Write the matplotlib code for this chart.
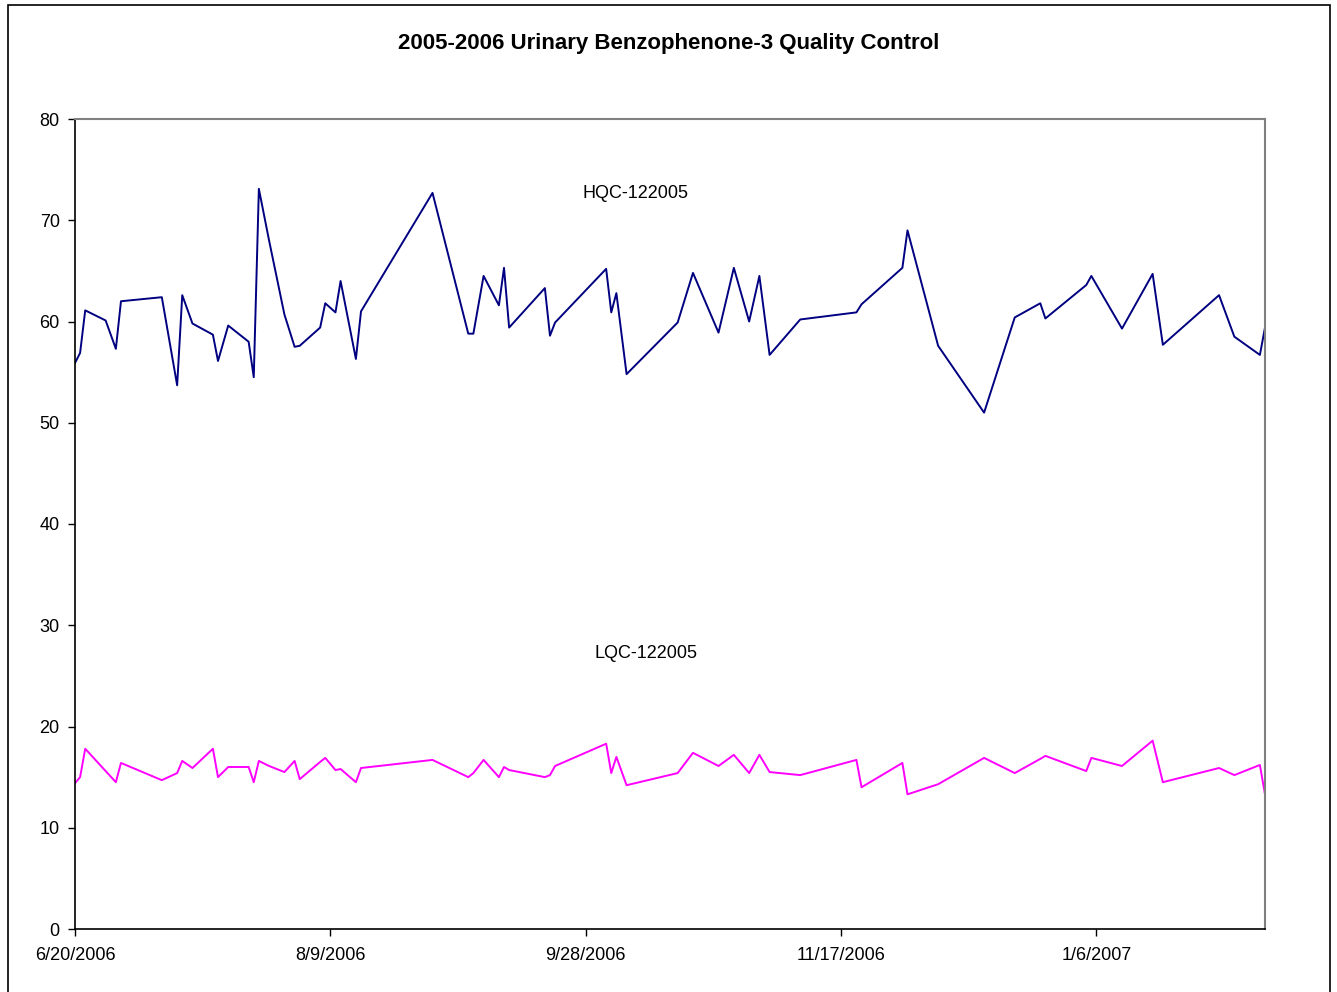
import pandas as pd
import matplotlib
matplotlib.use('Agg')
import matplotlib.pyplot as plt
from matplotlib.patches import Rectangle

plt.rcParams['font.family'] = ['Liberation Sans', 'DejaVu Sans']

dates = ['2006-06-20', '2006-06-21', '2006-06-22', '2006-06-26', '2006-06-28', '2006-06-29',
         '2006-07-07', '2006-07-10', '2006-07-11', '2006-07-13', '2006-07-17', '2006-07-18',
         '2006-07-20', '2006-07-24', '2006-07-25', '2006-07-26', '2006-07-28', '2006-07-31',
         '2006-08-02', '2006-08-03', '2006-08-07', '2006-08-08', '2006-08-10', '2006-08-11',
         '2006-08-14', '2006-08-15', '2006-08-29', '2006-09-05', '2006-09-06', '2006-09-08',
         '2006-09-11', '2006-09-12', '2006-09-13', '2006-09-20', '2006-09-21', '2006-09-22',
         '2006-10-02', '2006-10-03', '2006-10-04', '2006-10-06', '2006-10-16', '2006-10-19',
         '2006-10-24', '2006-10-27', '2006-10-30', '2006-11-01', '2006-11-03', '2006-11-09',
         '2006-11-20', '2006-11-21', '2006-11-29', '2006-11-30', '2006-12-06', '2006-12-15',
         '2006-12-21', '2006-12-26', '2006-12-27', '2007-01-04', '2007-01-05', '2007-01-11',
         '2007-01-17', '2007-01-19', '2007-01-30', '2007-02-02', '2007-02-07', '2007-02-08']

hqc = [55.9, 56.9, 61.1, 60.1, 57.3, 62.0, 62.4, 53.7, 62.6, 59.8, 58.7, 56.1,
       59.6, 58.0, 54.5, 73.1, 68.0, 60.7, 57.5, 57.6, 59.4, 61.8, 60.9, 64.0,
       56.3, 61.0, 72.7, 58.8, 58.8, 64.5, 61.6, 65.3, 59.4, 63.3, 58.6, 59.9,
       65.2, 60.9, 62.8, 54.8, 59.9, 64.8, 58.9, 65.3, 60.0, 64.5, 56.7, 60.2,
       60.9, 61.7, 65.3, 69.0, 57.6, 51.0, 60.4, 61.8, 60.3, 63.6, 64.5, 59.3,
       64.7, 57.7, 62.6, 58.5, 56.7, 59.4]

lqc = [14.4, 15.0, 17.8, 15.6, 14.5, 16.4, 14.7, 15.4, 16.6, 15.9, 17.8, 15.0,
       16.0, 16.0, 14.5, 16.6, 16.1, 15.5, 16.6, 14.8, 16.5, 16.9, 15.7, 15.8,
       14.5, 15.9, 16.7, 15.0, 15.4, 16.7, 15.0, 16.0, 15.7, 15.0, 15.2, 16.1,
       18.3, 15.4, 17.0, 14.2, 15.4, 17.4, 16.1, 17.2, 15.4, 17.2, 15.5, 15.2,
       16.7, 14.0, 16.4, 13.3, 14.3, 16.9, 15.4, 16.8, 17.1, 15.6, 16.9, 16.1,
       18.6, 14.5, 15.9, 15.2, 16.2, 13.3]

xtick_labels = ['6/20/2006', '8/9/2006', '9/28/2006', '11/17/2006', '1/6/2007']
yticks = [0, 10, 20, 30, 40, 50, 60, 70, 80]

x = pd.to_datetime(dates)
xticks = pd.to_datetime(xtick_labels, format='%m/%d/%Y')

fig = plt.figure(figsize=(13.37, 9.92), dpi=100)
ax = fig.add_axes([75/1337, 1-929/992, (1265-75)/1337, (929-119)/992])

ax.plot(x, hqc, color='#000080', lw=1.4)
ax.plot(x, lqc, color='#ff00ff', lw=1.4)

ax.set_xlim(x[0], pd.Timestamp('2007-02-08'))
ax.set_ylim(0, 80)
ax.set_yticks(yticks)
ax.set_xticks(xticks)
ax.set_xticklabels(xtick_labels)
ax.tick_params(axis='both', labelsize=13, direction='out', length=5, width=1)
ax.tick_params(axis='x', pad=8)
ax.tick_params(axis='y', pad=6)

for s in ['top', 'right']:
    ax.spines[s].set_color('#808080')
    ax.spines[s].set_linewidth(1.5)
for s in ['left', 'bottom']:
    ax.spines[s].set_color('black')
    ax.spines[s].set_linewidth(1.2)

ax.text(0.4706, 72.6, 'HQC-122005', ha='center', va='center', fontsize=13, transform=ax.get_yaxis_transform())
ax.text(0.480, 27.2, 'LQC-122005', ha='center', va='center', fontsize=13, transform=ax.get_yaxis_transform())

fig.text(669/1337, 1-44/992, '2005-2006 Urinary Benzophenone-3 Quality Control',
         ha='center', va='center', fontsize=16, fontweight='bold')

fig.patches.append(Rectangle((8/1337, -0.05), (1330-8)/1337, 1.05-5/992,
                             transform=fig.transFigure, fill=False, edgecolor='black', lw=1.2))

fig.savefig('out.png', dpi=100)
